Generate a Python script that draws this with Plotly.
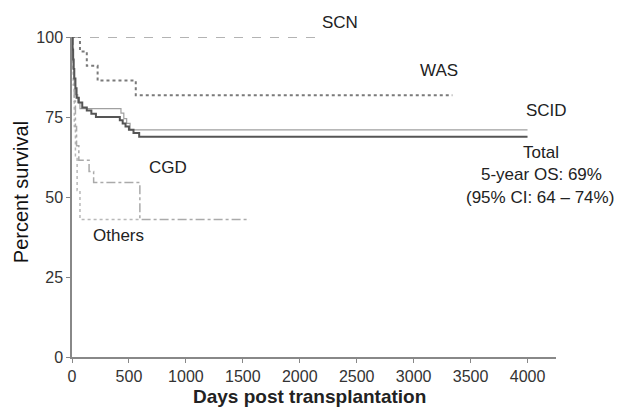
import plotly.graph_objects as go

# Kaplan-Meier step data (days, percent survival)
scn_days = [0, 2200]
scn_surv = [100, 100]

was_days = [0, 70, 130, 225, 560, 3340]
was_surv = [100, 95.5, 91, 86.4, 81.8, 81.8]

scid_days = [0, 5, 10, 20, 30, 50, 70, 430, 455, 480, 510, 4000]
scid_surv = [100, 95, 90, 85, 82, 79.5, 77.6, 76.2, 74.5, 73, 71, 71]

total_days = [0, 5, 10, 15, 20, 30, 40, 60, 90, 130, 170, 210, 420, 445, 470, 500, 540, 590, 4000]
total_surv = [100, 96, 93, 90, 87, 84, 81, 79.5, 78, 77, 76, 75, 74, 73, 72, 71, 70, 68.8, 68.8]

cgd_days = [0, 10, 20, 30, 40, 60, 150, 190, 596, 1560]
cgd_surv = [100, 90, 80, 72, 66, 61.5, 58, 54.5, 43, 43]

others_days = [0, 10, 20, 30, 45, 70, 600]
others_surv = [100, 85, 72, 62, 52, 43, 43]

x_ticks = [0, 500, 1000, 1500, 2000, 2500, 3000, 3500, 4000]
y_ticks = [0, 25, 50, 75, 100]

fig = go.Figure()

def add(days, surv, color, width, dash):
    fig.add_trace(go.Scatter(x=days, y=surv, mode="lines", line=dict(shape="hv", color=color, width=width, dash=dash),
                             cliponaxis=False, showlegend=False, hoverinfo="skip"))

add(others_days, others_surv, "#b8b8b8", 1.5, "dot")
add(cgd_days, cgd_surv, "#aaaaaa", 1.5, "dashdot")
add(scn_days, scn_surv, "#9a9a9a", 1.3, "dash")
add(was_days, was_surv, "#7a7a7a", 2, "dot")
add(scid_days, scid_surv, "#a0a0a0", 1.2, "solid")
add(total_days, total_surv, "#555555", 2, "solid")

font_fam = "Liberation Sans, Arial, sans-serif"
ann = [
    ("SCN", 2350, 104.6),
    ("WAS", 3220, 89.5),
    ("SCID", 4170, 77.0),
    ("Total", 4120, 64.0),
    ("5-year OS: 69%", 4125, 57.0),
    ("(95% CI: 64 \u2013 74%)", 4110, 50.0),
    ("CGD", 845, 59.3),
    ("Others", 405, 38.0),
]
for t, x, y in ann:
    fig.add_annotation(x=x / 4250, y=y / 100, xref="paper", yref="paper", text=t, showarrow=False,
                       xanchor="center", yanchor="middle",
                       font=dict(family=font_fam, size=17, color="#222222"))

# axis titles
fig.add_annotation(x=0.49, y=0, xref="paper", yref="paper", yshift=-39, text="<b>Days post transplantation</b>",
                   showarrow=False, xanchor="center", yanchor="middle", borderpad=0,
                   font=dict(family=font_fam, size=19, color="#222222"))
fig.add_annotation(x=0, y=0.515, xref="paper", yref="paper", xshift=-51, text="Percent survival",
                   textangle=-90, showarrow=False, xanchor="center", yanchor="middle",
                   font=dict(family=font_fam, size=20, color="#111111"))

fig.update_layout(
    width=619, height=409,
    margin=dict(l=72, r=63, t=37, b=52),
    plot_bgcolor="white", paper_bgcolor="white",
    font=dict(family=font_fam, size=16, color="#333333"),
    xaxis=dict(range=[0, 4250], tickvals=x_ticks, showgrid=False, zeroline=False, automargin=False,
               showline=True, linecolor="#888888", linewidth=1.5, ticks="outside", ticklen=4,
               tickcolor="#888888", tickfont=dict(size=16, color="#333333")),
    yaxis=dict(range=[0, 100], tickvals=y_ticks, showgrid=False, zeroline=False, automargin=False,
               showline=True, linecolor="#888888", linewidth=1.5, ticks="outside", ticklen=4,
               tickcolor="#888888", tickfont=dict(size=16, color="#333333")),
)

fig.write_html("out.html")
